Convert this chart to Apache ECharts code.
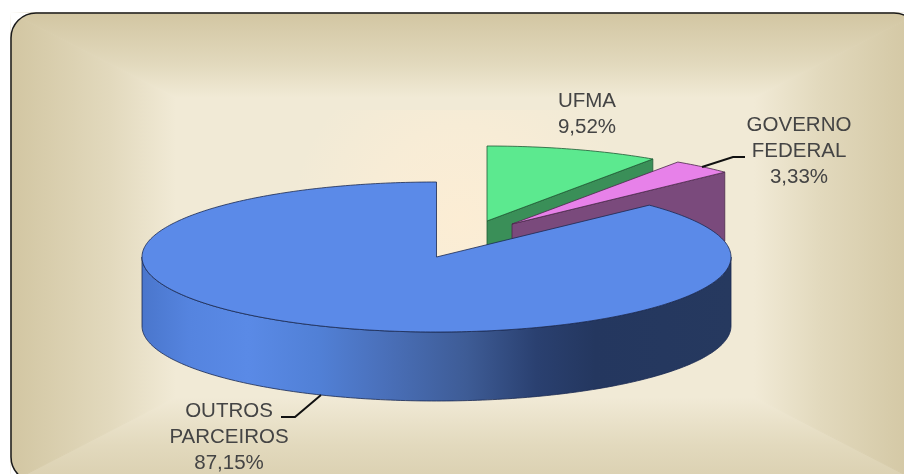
<!DOCTYPE html>
<html><head><meta charset="utf-8">
<style>html,body{margin:0;padding:0;background:#fff}#c{width:904px;height:474px}</style>
<script src="https://cdn.jsdelivr.net/npm/echarts@6/dist/echarts.min.js"></script>
</head><body><div id="c"></div>
<script>
const categories = ['UFMA', 'GOVERNO\nFEDERAL', 'OUTROS\nPARCEIROS'];
const shares = [9.52, 3.33, 87.15];

// geometry and style of the tilted pie
const pie = { cx: 436.5, cy: 257, rx: 294.5, ry: 75, depth: 69 };
const explode = [[50.5, -36], [75.5, -33], [0, 0]];
const topColors = ['#5ce98f', '#e781e9', '#5b8ae8'];
const wallColors = ['#3a8f58', '#7a4a7c', '#3f69b8'];
const edgeColors = ['#1f5a35', '#4a2a4a', '#1a2a52'];
const labelPos = [[587, 114], [799, 151], [229, 437]];
const leaders = [null, [[702, 167], [733, 157], [745, 157]], [[321, 395], [295, 417], [281, 417]]];

const G = echarts.graphic;
function pt(t, ox, oy, dy) {
  const a = t * Math.PI / 180;
  return [pie.cx + ox + pie.rx * Math.sin(a), pie.cy + oy - pie.ry * Math.cos(a) + (dy || 0)];
}
function arc(t0, t1, ox, oy, dy) {
  const out = [], n = Math.max(2, Math.ceil(Math.abs(t1 - t0)));
  for (let i = 0; i <= n; i++) out.push(pt(t0 + (t1 - t0) * i / n, ox, oy, dy));
  return out;
}
function renderItem(params, api) {
  const i = params.dataIndex;
  let start = 0;
  for (let k = 0; k < i; k++) start += shares[k];
  const t0 = start * 3.6, t1 = (start + api.value(0)) * 3.6;
  const [ox, oy] = explode[i];
  const apex = [pie.cx + ox, pie.cy + oy];
  const children = [];
  const edge = { stroke: edgeColors[i], lineWidth: 0.8 };
  if (i < 2) {
    // cut face at the end angle, seen from behind because the slice is pulled out
    const e = pt(t1, ox, oy);
    children.push({ type: 'polygon', shape: { points: [apex, e, [e[0], e[1] + pie.depth], [apex[0], apex[1] + pie.depth]] },
      style: Object.assign({ fill: wallColors[i] }, edge) });
  } else {
    // outer wall, lower half of the rim
    const a = Math.max(t0, 90), b = Math.min(t1, 270);
    const pts = arc(a, b, ox, oy).concat(arc(b, a, ox, oy, pie.depth));
    children.push({ type: 'polygon', shape: { points: pts },
      style: Object.assign({
        fill: new G.LinearGradient(142, 0, 731, 0, [
          { offset: 0, color: '#4a76cc' },
          { offset: 0.08, color: '#5584df' },
          { offset: 0.18, color: '#5a8ae6' },
          { offset: 0.30, color: '#5180d6' },
          { offset: 0.41, color: '#4a70ba' },
          { offset: 0.55, color: '#3e5c96' },
          { offset: 0.67, color: '#2a4070' },
          { offset: 0.77, color: '#24375f' },
          { offset: 1, color: '#26395f' }
        ], true)
      }, edge) });
  }
  children.push({ type: 'polygon', shape: { points: [apex].concat(arc(t0, t1, ox, oy)) },
    style: Object.assign({ fill: topColors[i] }, edge) });
  if (leaders[i]) children.push({ type: 'polyline', shape: { points: leaders[i] },
    style: { stroke: '#111', lineWidth: 2, fill: null } });
  children.push({ type: 'text', style: {
    text: categories[i] + '\n' + api.value(0).toFixed(2).replace('.', ',') + '%',
    x: labelPos[i][0], y: labelPos[i][1], align: 'center', verticalAlign: 'middle',
    font: '20.5px "Liberation Sans", Arial, sans-serif', lineHeight: 26, fill: '#444444' } });
  return { type: 'group', children };
}

// panel: rectangular gradient from the edges to a light plateau
const P = { x0: 11, y0: 13, x1: 919, y1: 482, bandX: 165, bandY: 85, r: 25 };
const edgeC = '#d2c6a2', midC = '#f1ead6';
const ix0 = P.x0 + P.bandX, ix1 = P.x1 - P.bandX, iy0 = P.y0 + P.bandY, iy1 = P.y1 - P.bandY;
function band(points, x0, y0, x1, y1) {
  const g = new G.LinearGradient(x0, y0, x1, y1, [
    { offset: 0, color: edgeC }, { offset: 0.6, color: '#e2d9bd' }, { offset: 1, color: midC }], true);
  return { type: 'polygon', shape: { points }, style: { fill: g, stroke: g, lineWidth: 1 } };
}
function cornerMask(cx, cy, a0, ox, oy) {
  const pts = [[ox, oy]];
  for (let k = 0; k <= 16; k++) {
    const a = (a0 + 90 * k / 16) * Math.PI / 180;
    pts.push([cx + P.r * Math.cos(a), cy + P.r * Math.sin(a)]);
  }
  return { type: 'polygon', shape: { points: pts }, style: { fill: '#fff' } };
}
const panel = [
  { type: 'rect', shape: { x: 0, y: 0, width: 904, height: 474 }, style: { fill: '#fff' } },
  { type: 'rect', shape: { x: ix0, y: iy0, width: ix1 - ix0, height: iy1 - iy0 }, style: { fill: midC, stroke: midC, lineWidth: 1 } },
  { type: 'rect', shape: { x: 260, y: 110, width: 400, height: 220 }, style: {
    fill: new G.RadialGradient(460, 220, 170, [
      { offset: 0, color: 'rgba(252,237,212,1)' },
      { offset: 0.5, color: 'rgba(250,237,214,0.75)' },
      { offset: 1, color: 'rgba(250,237,214,0)' }], true) } },
  band([[P.x0, P.y0], [P.x1, P.y0], [ix1, iy0], [ix0, iy0]], 0, P.y0, 0, iy0),
  band([[P.x0, P.y1], [P.x1, P.y1], [ix1, iy1], [ix0, iy1]], 0, 520, 0, iy1),
  band([[P.x0, P.y0], [P.x0, P.y1], [ix0, iy1], [ix0, iy0]], P.x0, 0, ix0, 0),
  band([[P.x1, P.y0], [P.x1, P.y1], [ix1, iy1], [ix1, iy0]], P.x1, 0, ix1, 0),
  { type: 'polygon', shape: { points: [[0, 0], [904, 0], [904, P.y0 - 1], [0, P.y0 - 1]] }, style: { fill: '#fff' } },
  { type: 'polygon', shape: { points: [[0, 0], [P.x0 - 1, 0], [P.x0 - 1, 474], [0, 474]] }, style: { fill: '#fff' } },
  cornerMask(P.x0 + P.r, P.y0 + P.r, 180, P.x0 - 1, P.y0 - 1),
  cornerMask(P.x1 - P.r, P.y0 + P.r, 270, P.x1 + 1, P.y0 - 1),
  cornerMask(P.x0 + P.r, P.y1 - P.r, 90, P.x0 - 1, P.y1 + 1),
  { type: 'rect', shape: { x: P.x0, y: P.y0, width: P.x1 - P.x0, height: P.y1 - P.y0, r: P.r },
    style: { fill: null, stroke: '#1a1a1a', lineWidth: 1.5 } }
];

const chart = echarts.init(document.getElementById('c'), null, { renderer: 'canvas' });
chart.setOption({
  animation: false,
  graphic: { elements: panel.map(e => Object.assign({ silent: true, z: -10 }, e)) },
  series: [{ type: 'custom', coordinateSystem: 'none', silent: true, renderItem,
    data: shares.map(v => [v]), z: 5 }]
});
</script></body></html>
